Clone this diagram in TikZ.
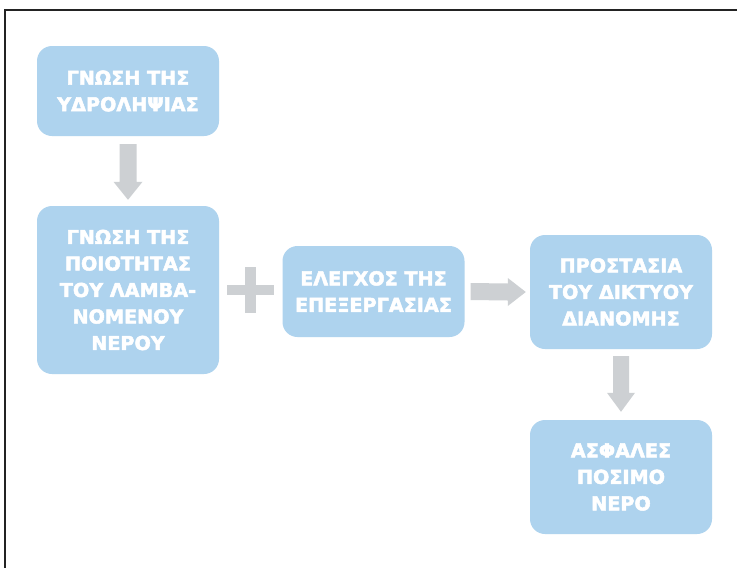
\documentclass[tikz,border=0pt]{standalone}
\usepackage{fontspec}
\setmainfont{DejaVu Sans}[BoldFont=DejaVu Sans Bold]
\newfontfamily\boxfont{DejaVu Sans Bold}[FakeBold=2.6]
\usetikzlibrary{calc}
\definecolor{boxblue}{RGB}{174,211,238}
\definecolor{arrowgray}{RGB}{205,208,211}
\definecolor{framecol}{RGB}{35,35,35}
\tikzset{
  stepbox/.style={rectangle, rounded corners=15pt, fill=boxblue, draw=none,
    text=white, align=center, minimum width=182pt, inner sep=0pt,
    font=\boxfont\fontsize{19.2}{26.5}\selectfont},
}
\begin{document}
\begin{tikzpicture}[x=1pt,y=-1pt]
\useasboundingbox (0,0) rectangle (737,568);
\fill[white] (0,0) rectangle (737,568);
\draw[framecol, line width=2.2pt] (5,570) -- (5,10) -- (740,10);

\node[stepbox, minimum height=90pt] (b1) at (128,91) {ΓΝΩΣΗ ΤΗΣ\\ΥΔΡΟΛΗΨΙΑΣ};
\node[stepbox, minimum height=168pt] (b2) at (128,290) {ΓΝΩΣΗ ΤΗΣ\\ΠΟΙΟΤΗΤΑΣ\\ΤΟΥ ΛΑΜΒΑ-\\ΝΟΜΕΝΟΥ\\ΝΕΡΟΥ};
\node[stepbox, minimum height=91pt] (b3) at (373.5,291.5) {ΕΛΕΓΧΟΣ ΤΗΣ\\ΕΠΕΞΕΡΓΑΣΙΑΣ};
\node[stepbox, minimum height=114pt] (b4) at (621,292) {ΠΡΟΣΤΑΣΙΑ\\ΤΟΥ ΔΙΚΤΥΟΥ\\ΔΙΑΝΟΜΗΣ};
\node[stepbox, minimum height=114pt] (b5) at (621,477) {ΑΣΦΑΛΕΣ\\ΠΟΣΙΜΟ\\ΝΕΡΟ};

% down arrow b1 -> b2
\fill[arrowgray] ($(b1.south)+(-8.5,8)$) -- ($(b1.south)+(8.5,8)$)
  -- ($(b2.north)+(8.5,-24)$) -- ($(b2.north)+(14.5,-24)$)
  -- ($(b2.north)+(0,-6)$)
  -- ($(b2.north)+(-14.5,-24)$) -- ($(b2.north)+(-8.5,-24)$) -- cycle;

% plus between b2 and b3
\coordinate (plus) at ($(b2.east)!0.5!(b3.west)+(0,-1)$);
\fill[arrowgray] ($(plus)+(-23.5,-5.25)$) rectangle ($(plus)+(23.5,5.25)$);
\fill[arrowgray] ($(plus)+(-5.5,-23)$) rectangle ($(plus)+(5.5,23)$);

% right arrow b3 -> b4
\fill[arrowgray] ($(b3.east)+(6,-8.5)$) -- ($(b4.west)+(-22,-8.5)$)
  -- ($(b4.west)+(-22,-14)$) -- ($(b4.west)+(-4,0)$)
  -- ($(b4.west)+(-22,14)$) -- ($(b4.west)+(-22,8.5)$)
  -- ($(b3.east)+(6,8.5)$) -- cycle;

% down arrow b4 -> b5
\fill[arrowgray] ($(b4.south)+(-8,7)$) -- ($(b4.south)+(8,7)$)
  -- ($(b5.north)+(8,-27)$) -- ($(b5.north)+(14,-27)$)
  -- ($(b5.north)+(0,-8)$)
  -- ($(b5.north)+(-14,-27)$) -- ($(b5.north)+(-8,-27)$) -- cycle;
\end{tikzpicture}
\end{document}
